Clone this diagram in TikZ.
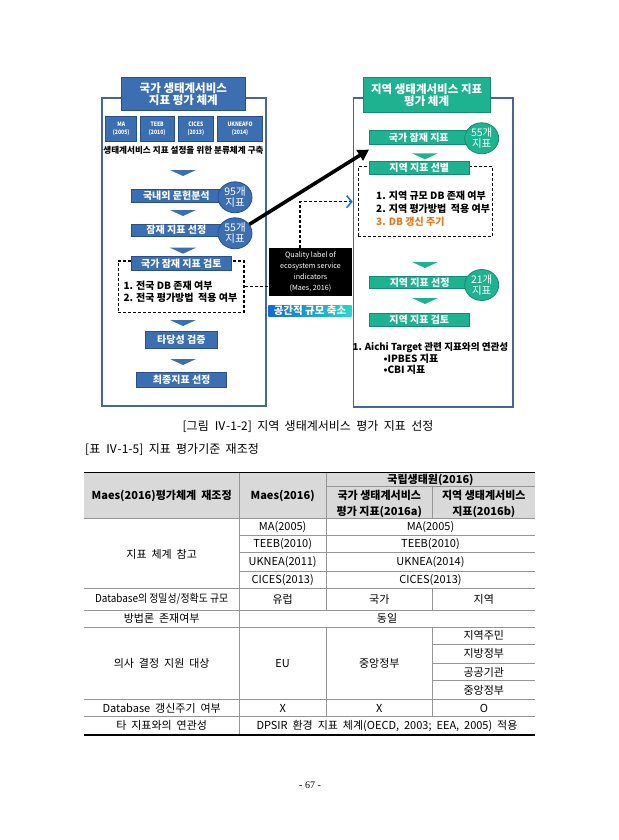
\documentclass[tikz,border=0pt]{standalone}
\usepackage{graphicx}
\usepackage{fontspec}
\setmainfont{Noto Sans CJK KR}
\newfontfamily\pgnum{Liberation Serif}
\usetikzlibrary{shapes.geometric,arrows.meta}
\definecolor{bblue}{RGB}{60,110,178}
\definecolor{bbord}{RGB}{40,80,140}
\definecolor{gteal}{RGB}{30,178,145}
\definecolor{gbord}{RGB}{20,140,115}
\definecolor{frameb}{RGB}{72,100,160}
\definecolor{orangec}{RGB}{230,120,30}
\definecolor{chevb}{RGB}{20,120,220}
\definecolor{hdrgray}{RGB}{217,217,217}
\definecolor{rulegray}{RGB}{150,150,150}
\definecolor{gradl}{RGB}{20,105,210}
\definecolor{gradr}{RGB}{40,215,200}
\newcommand\dtri[3]{\fill[#3] ({#1-13},#2) -- ({#1+13},#2) -- (#1,{#2+6}) -- cycle;}
\tikzset{
 frame/.style={draw=frameb, line width=1.6pt, inner sep=0pt},
 bar/.style={fill=bblue, draw=bbord, line width=0.6pt, text=white, inner sep=0pt, font=\bfseries\fontsize{10}{11}\selectfont},
 gbar/.style={bar, fill=gteal, draw=gbord},
 circ/.style={ellipse, fill=bblue, draw=bbord, line width=0.8pt, text=white, inner sep=0pt, minimum width=34pt, minimum height=31pt, align=center, font=\fontsize{10.5}{11}\selectfont},
 gcirc/.style={circ, fill=gteal, draw=gbord},
 dbox/.style={draw, line width=1.1pt, dash pattern=on 3pt off 2pt, inner sep=0pt},
 dline/.style={line width=1.1pt, dash pattern=on 3pt off 2pt},
 ptext/.style={font=\bfseries\fontsize{10}{11}\selectfont, inner sep=0pt, anchor=west},
 smallbox/.style={bar, font=\bfseries\fontsize{6}{8}\selectfont, align=center, minimum height=24.3pt},
 cell/.style={font=\fontsize{11}{12}\selectfont, inner sep=0pt},
 hcell/.style={font=\bfseries\fontsize{11}{12}\selectfont, inner sep=0pt},
 thin/.style={draw=rulegray, line width=0.6pt},
 thick/.style={draw=black, line width=1.3pt}
}
\begin{document}
\begin{tikzpicture}[x=1pt,y=-1pt]
\useasboundingbox (0,0) rectangle (618,840);
\fill[white] (0,0) rectangle (618,840);

% ---------- left panel ----------
\node[frame, minimum width=164.3pt, minimum height=307.7pt] (lpanel) at (183.85,252.15) {};
\node[bar, font=\bfseries\fontsize{11.5}{12.5}\selectfont, align=center, minimum width=123.3pt, minimum height=33.4pt] (ltitle) at (183.35,94) {국가 생태계서비스\\지표 평가 체계};
\node[smallbox, minimum width=31pt] (sma) at (121.2,128.85) {\scalebox{0.85}[1]{MA}\\\scalebox{0.85}[1]{(2005)}};
\node[smallbox, minimum width=34.3pt] (steeb) at (157.15,128.85) {\scalebox{0.85}[1]{TEEB}\\\scalebox{0.85}[1]{(2010)}};
\node[smallbox, minimum width=35pt] (scices) at (195.8,128.85) {\scalebox{0.85}[1]{CICES}\\\scalebox{0.85}[1]{(2013)}};
\node[smallbox, minimum width=44.6pt] (suk) at (240,128.85) {\scalebox{0.85}[1]{UKNEAFO}\\\scalebox{0.85}[1]{(2014)}};
\node[font=\bfseries\fontsize{8.6}{9}\selectfont, inner sep=0pt] (ltax) at (183.5,150.7) {생태계서비스 지표 설정을 위한 분류체계 구축};
\dtri{183}{170}{bblue}
\node[bar, minimum width=90.7pt, minimum height=13.4pt] (llit) at (176.35,196) {국내외 문헌분석};
\node[circ] (c95) at (235,197.3) {95개\\지표};
\dtri{183}{210}{bblue}
\node[bar, minimum width=90.7pt, minimum height=12pt] (lpot) at (176.35,230.15) {잠재 지표 선정};
\node[circ] (c55l) at (235,233.3) {55개\\지표};
\dtri{183}{247.7}{bblue}
\node[dbox, minimum width=125.7pt, minimum height=51.7pt] (ldash) at (181.15,286.85) {};
\node[bar, minimum width=100.7pt, minimum height=14.7pt] (lrev) at (181.35,263.35) {국가 잠재 지표 검토};
\node[ptext] (lt1) at (123.3,285.7) {1. 전국 DB 존재 여부};
\node[ptext] (lt2) at (123.3,297.7) {2. 전국 평가방법\ \ 적용 여부};
\dtri{183}{320}{bblue}
\node[bar, minimum width=72.7pt, minimum height=16.6pt] (lval) at (181.35,340) {타당성 검증};
\dtri{183}{359}{bblue}
\node[bar, minimum width=90pt, minimum height=15.4pt] (lfin) at (181.7,380) {최종지표 선정};

% ---------- right panel ----------
\node[frame, minimum width=159.4pt, minimum height=308.4pt] (rpanel) at (433,252.5) {};
\node[gbar, font=\bfseries\fontsize{11.5}{12.5}\selectfont, align=center, minimum width=126.7pt, minimum height=35.4pt] (rtitle) at (426.65,95) {지역 생태계서비스 지표\\평가 체계};
\node[gbar, minimum width=99pt, minimum height=13.6pt] (rnat) at (418.8,137.5) {국가 잠재 지표};
\node[gcirc] (c55r) at (481.7,138.3) {55개\\지표};
\dtri{425}{153.3}{gteal}
\node[dbox, minimum width=134.4pt, minimum height=70pt] (rdash) at (425.5,201.7) {};
\node[gbar, minimum width=100pt, minimum height=13.3pt] (rsel) at (419.3,167.65) {지역 지표 선별};
\node[ptext] (rt1) at (376,196) {1. 지역 규모 DB 존재 여부};
\node[ptext] (rt2) at (376,208.7) {2. 지역 평가방법\ \ 적용 여부};
\node[ptext, text=orangec] (rt3) at (376,221.7) {3. DB 갱신 주기};
\dtri{425}{262}{gteal}
\node[gbar, minimum width=100.7pt, minimum height=12.7pt] (rpick) at (419.65,282.35) {지역 지표 선정};
\node[gcirc] (c21) at (481.7,285) {21개\\지표};
\dtri{425}{298}{gteal}
\node[gbar, minimum width=100pt, minimum height=13.4pt] (rrev) at (419.3,320) {지역 지표 검토};
\node[font=\bfseries\fontsize{9.6}{10}\selectfont, inner sep=0pt] (ra1) at (430.5,347.3) {1. Aichi Target 관련 지표와의 연관성};
\node[ptext] (ra2) at (383.3,359) {•IPBES 지표};
\node[ptext] (ra3) at (383.3,370) {•CBI 지표};

% ---------- middle ----------
\node[fill=black, text=white, align=center, minimum width=82.4pt, minimum height=47.7pt, inner sep=0pt, font=\fontsize{7.2}{11}\selectfont] (qbox) at (310.5,272.15) {Quality label of\\ecosystem service\\indicators\\(Maes, 2016)};
\node[left color=gradl, right color=gradr, text=white, minimum width=83.4pt, minimum height=11.7pt, inner sep=0pt, font=\bfseries\fontsize{10.5}{11}\selectfont] (shrink) at (310,310.85) {공간적 규모 축소};
\draw[dline] (ldash.east) -- (ldash.east -| qbox.west);
\coordinate (qtop) at ([xshift=-10.5pt]qbox.north);
\coordinate (chev) at (351.7,201.7);
\draw[dline] (qtop) |- (chev);
\draw[chevb, line width=1.6pt] ([xshift=-5pt,yshift=6pt]chev) -- (chev) -- ([xshift=-5pt,yshift=-6pt]chev);
\draw[line width=3.6pt, -{Triangle[length=11pt,width=12pt]}] (c55l) -- ([yshift=-5pt]rnat.south west);

% ---------- captions ----------
\node[font=\fontsize{12}{13}\selectfont, inner sep=0pt] (figcap) at (308,426.7) {[그림\ \ Ⅳ-1-2]\ \ 지역\ \ 생태계서비스\ \ 평가\ \ 지표\ \ 선정};
\node[font=\fontsize{12}{13}\selectfont, inner sep=0pt, anchor=west] (tabcap) at (85,449.3) {[표\ \ Ⅳ-1-5]\ \ 지표\ \ 평가기준\ \ 재조정};

% ---------- table ----------
\fill[hdrgray] (84,472.3) rectangle (535,518.3);
\draw[thin] (326,486.7) -- (535,486.7);
\draw[draw=rulegray, line width=1pt] (84,518.3) -- (535,518.3);
\draw[thin] (239.3,535) -- (535,535);
\draw[thin] (239.3,552.7) -- (535,552.7);
\draw[thin] (239.3,571) -- (535,571);
\draw[thin] (84,588.3) -- (535,588.3);
\draw[thin] (84,610) -- (535,610);
\draw[thin] (84,627.3) -- (535,627.3);
\draw[thin] (432.7,644.3) -- (535,644.3);
\draw[thin] (432.7,663.3) -- (535,663.3);
\draw[thin] (432.7,680.7) -- (535,680.7);
\draw[thin] (84,699.3) -- (535,699.3);
\draw[thin] (84,716.7) -- (535,716.7);
\draw[thin] (239.3,472.3) -- (239.3,735);
\draw[thin] (326,472.3) -- (326,610);
\draw[thin] (326,627.3) -- (326,716.7);
\draw[thin] (432.7,486.7) -- (432.7,518.3);
\draw[thin] (432.7,588.3) -- (432.7,610);
\draw[thin] (432.7,627.3) -- (432.7,716.7);
\draw[thick] (84,472.3) -- (535,472.3);
\draw[thick] (84,735) -- (535,735);
\node[hcell] (h1) at (161.7,496.3) {Maes(2016)평가체계\ \ 재조정};
\node[hcell] (h2) at (282.7,496.3) {Maes(2016)};
\node[hcell] (h3) at (430.5,480) {국립생태원(2016)};
\node[hcell] (h4) at (379.35,495.7) {국가\ 생태계서비스};
\node[hcell] (h5) at (379.35,511.7) {평가\ 지표(2016a)};
\node[hcell] (h6) at (483.85,495.7) {지역\ 생태계서비스};
\node[hcell] (h7) at (483.85,511.7) {지표(2016b)};
\node[cell] (r1a) at (161.7,554) {지표\ \ 체계\ \ 참고};
\node[cell] (r1b) at (282.7,527) {MA(2005)};
\node[cell] (r1c) at (430.5,527) {MA(2005)};
\node[cell] (r2b) at (282.7,544.5) {TEEB(2010)};
\node[cell] (r2c) at (430.5,544.5) {TEEB(2010)};
\node[cell] (r3b) at (282.7,562.3) {UKNEA(2011)};
\node[cell] (r3c) at (430.5,562.3) {UKNEA(2014)};
\node[cell] (r4b) at (282.7,580) {CICES(2013)};
\node[cell] (r4c) at (430.5,580) {CICES(2013)};
\node[cell] (r5a) at (161.7,599.3) {\scalebox{0.9}[1]{Database의 정밀성/정확도 규모}};
\node[cell] (r5b) at (282.7,599.3) {유럽};
\node[cell] (r5c) at (379.35,599.3) {국가};
\node[cell] (r5d) at (483.85,599.3) {지역};
\node[cell] (r6a) at (161.7,618.3) {방법론\ \ 존재여부};
\node[cell] (r6b) at (387,618.3) {동일};
\node[cell] (r7a) at (161.7,663.3) {의사\ \ 결정\ \ 지원\ \ 대상};
\node[cell] (r7b) at (282.7,663.3) {EU};
\node[cell] (r7c) at (379.35,663.3) {중앙정부};
\node[cell] (r7d1) at (483.85,635.8) {지역주민};
\node[cell] (r7d2) at (483.85,653.8) {지방정부};
\node[cell] (r7d3) at (483.85,672) {공공기관};
\node[cell] (r7d4) at (483.85,690) {중앙정부};
\node[cell] (r8a) at (161.7,708) {Database\ \ 갱신주기\ \ 여부};
\node[cell] (r8b) at (282.7,708) {X};
\node[cell] (r8c) at (379.35,708) {X};
\node[cell] (r8d) at (483.85,708) {O};
\node[cell] (r9a) at (161.7,725.8) {타\ \ 지표와의\ \ 연관성};
\node[cell] (r9b) at (387,725.8) {DPSIR\ \ 환경\ \ 지표\ \ 체계(OECD,\ \ 2003;\ \ EEA,\ \ 2005)\ \ 적용};

\node[font=\pgnum\fontsize{10}{11}\selectfont, inner sep=0pt] (pagenum) at (310,785) {- 67 -};
\end{tikzpicture}
\end{document}
